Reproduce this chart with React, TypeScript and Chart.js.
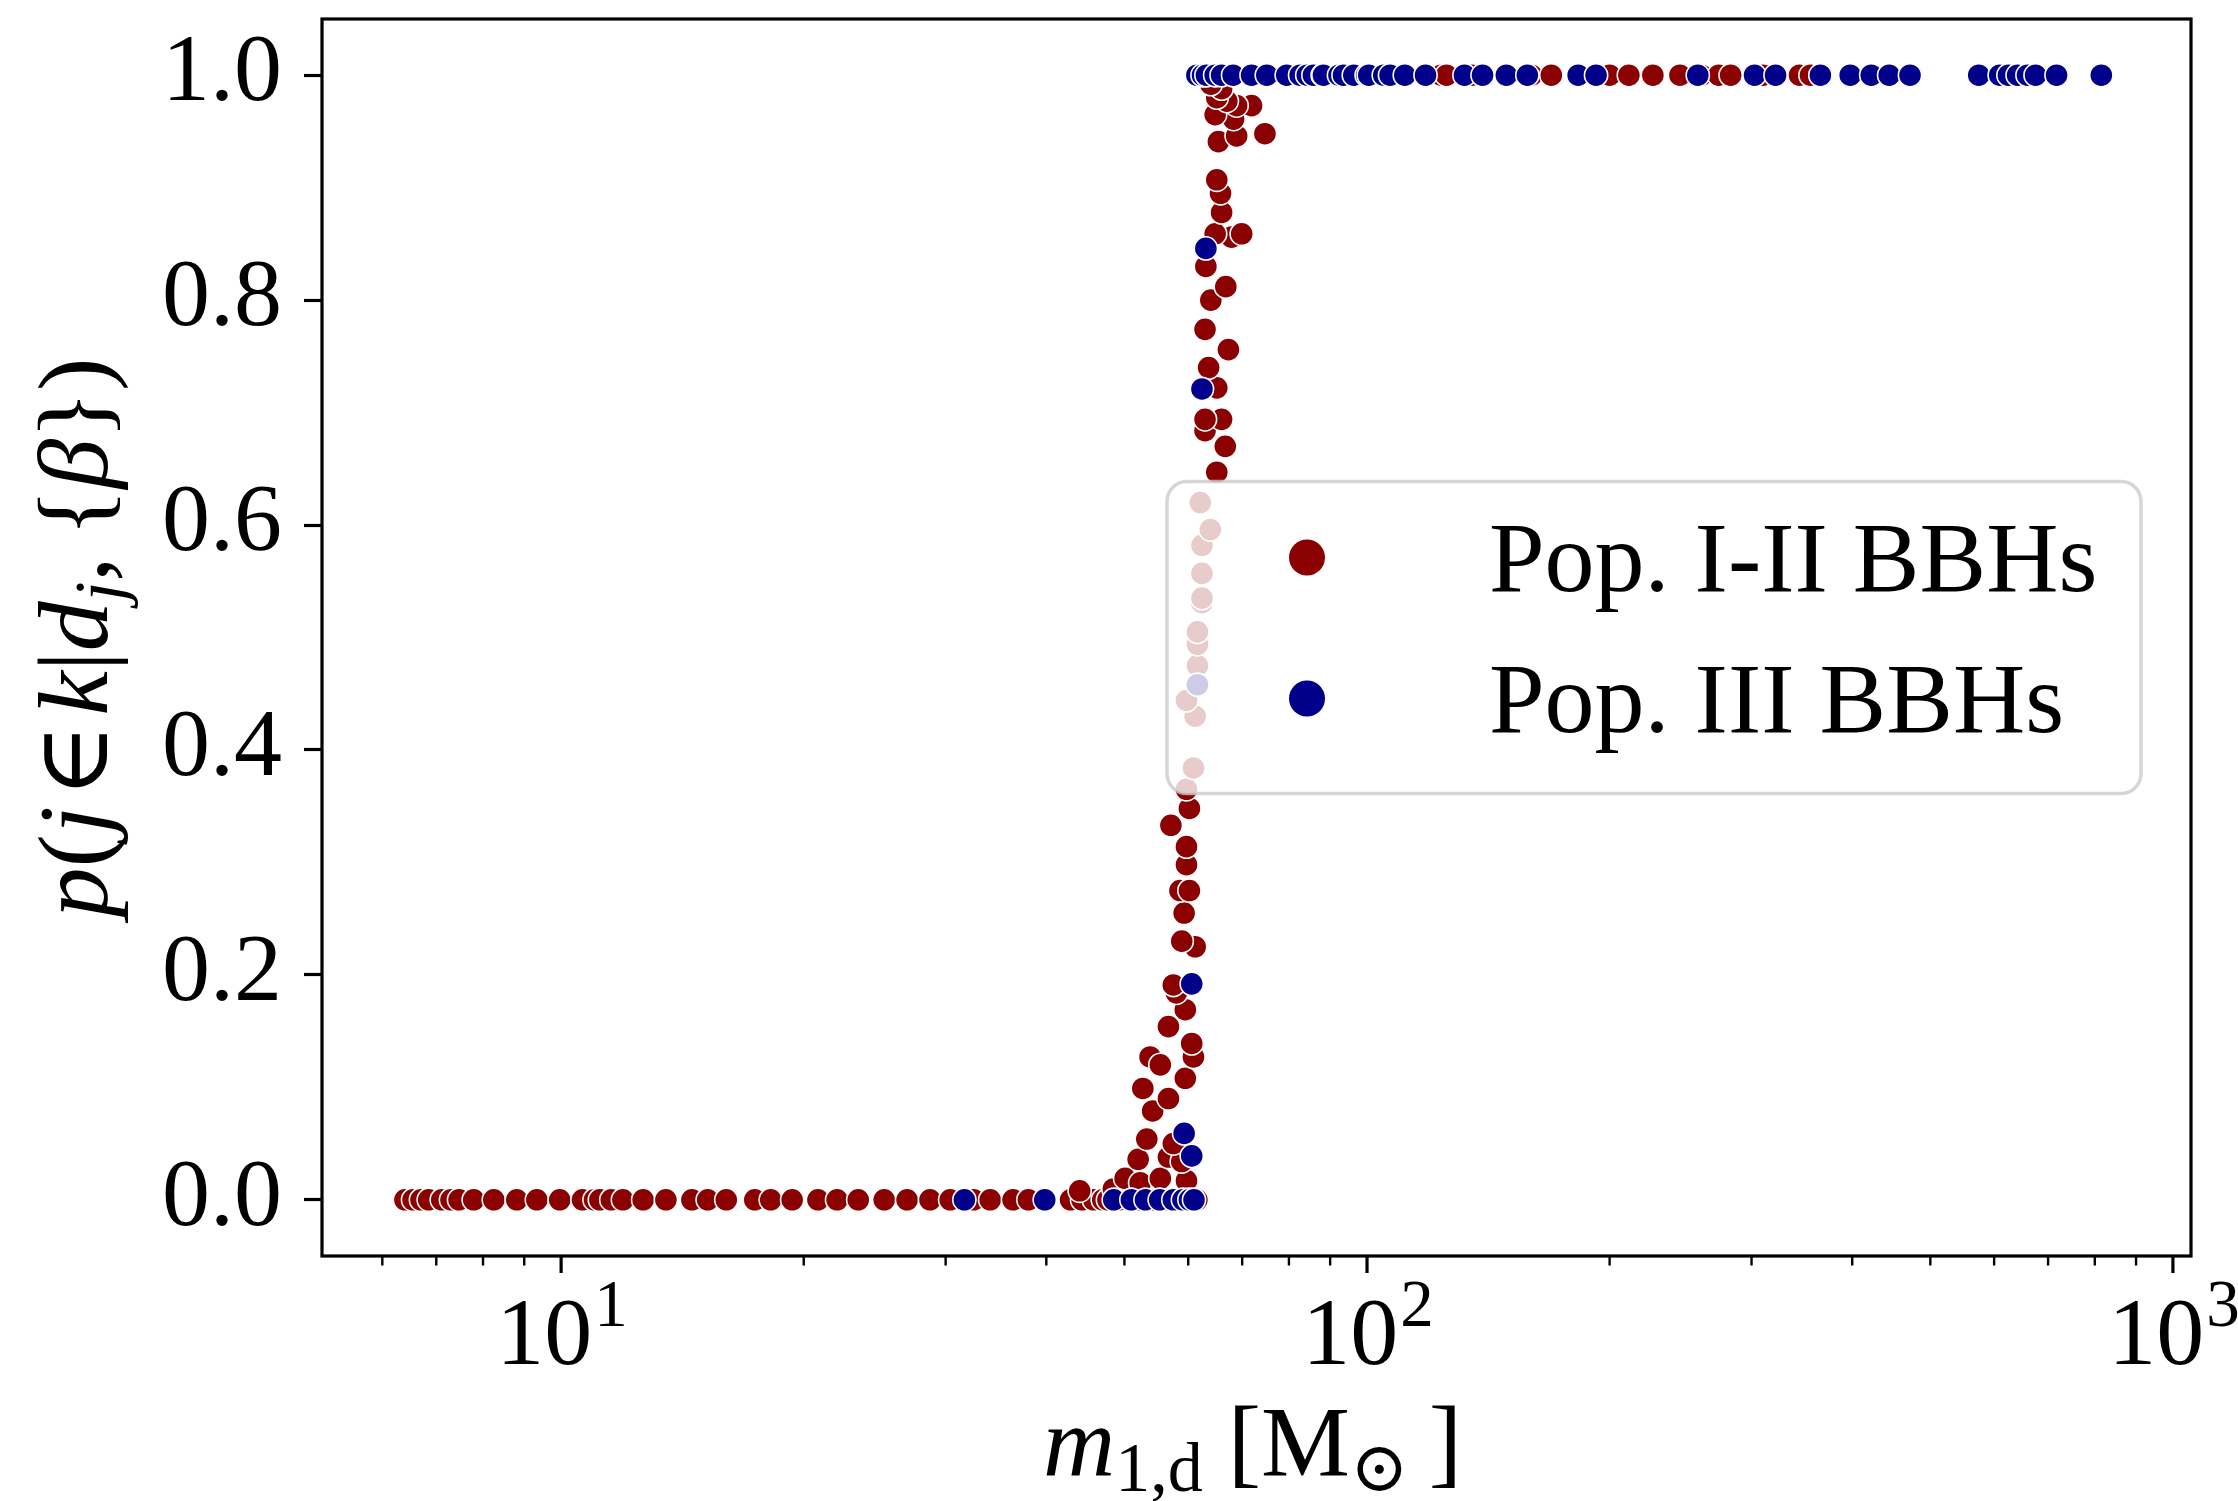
import React, { useEffect, useRef } from 'react';
import { Chart, registerables } from 'chart.js';

Chart.register(...registerables);

// ---------------- data ----------------
// Pop. I-II BBHs
const POP12_M0 = [6.40, 6.55, 6.70, 6.85, 7.11, 7.30, 7.47, 7.79, 8.25, 8.81, 9.33, 9.96, 10.63, 11.0, 11.17, 11.54, 11.93, 12.64, 13.49, 14.53, 15.2, 16.03, 17.39, 18.2, 19.35, 20.83, 22.0, 23.37, 25.17, 26.87, 28.69, 30.39, 32.5, 34.07, 36.37, 38.0, 42.87, 44.3, 45.8, 47.0, 47.7, 49.2, 50.9, 52.0, 53.5, 54.5, 56.0, 57.8, 59.0, 60.2, 61.5];
const POP12_MID_M = [44.0, 48.45, 50.1, 52.3, 55.4, 59.7, 52.0, 56.7, 58.9, 53.3, 57.5, 54.2, 56.7, 52.7, 59.5, 53.8, 55.4, 60.9, 60.6, 56.7, 59.5, 58.0, 57.5, 61.2, 58.9, 59.3, 58.6, 60.2, 59.7, 59.7, 57.1, 60.2, 59.7, 60.9, 61.2, 59.7, 61.6, 61.6, 61.6, 62.4, 62.4, 62.4, 62.4, 63.9, 62.1, 65.1, 66.7, 62.95, 66.0, 62.95, 65.1, 63.6, 67.3, 62.95, 64.0, 66.8, 63.1, 67.9, 69.9, 64.8, 66.0, 65.8, 65.1, 65.4, 68.9, 74.7, 68.3, 64.8, 71.9, 68.9, 67.0, 65.1, 66.0, 64.0];
const POP12_MID_P = [0.008, 0.0096, 0.019, 0.015, 0.019, 0.017, 0.036, 0.038, 0.034, 0.054, 0.05, 0.079, 0.090, 0.099, 0.108, 0.127, 0.120, 0.127, 0.139, 0.154, 0.169, 0.184, 0.191, 0.225, 0.230, 0.255, 0.275, 0.275, 0.298, 0.314, 0.333, 0.348, 0.365, 0.384, 0.430, 0.444, 0.475, 0.494, 0.505, 0.531, 0.535, 0.557, 0.582, 0.596, 0.620, 0.647, 0.670, 0.684, 0.694, 0.694, 0.722, 0.740, 0.756, 0.774, 0.800, 0.812, 0.830, 0.856, 0.859, 0.859, 0.878, 0.895, 0.907, 0.941, 0.946, 0.948, 0.961, 0.965, 0.973, 0.973, 0.977, 0.980, 0.988, 0.992];
const POP12_M1 = [123.6, 125.5, 135.0, 160.0, 169.3, 200.0, 211.3, 226.3, 244.5, 260.0, 273.2, 282.6, 310.0, 344.1, 355.0];

// Pop. III BBHs
const POP3_M0 = [31.65, 39.82, 48.5, 51.0, 53.1, 55.3, 57.5, 59.1, 60.2, 61.0];
const POP3_MID_M = [59.3, 60.6, 60.6, 61.6, 62.4, 63.1];
const POP3_MID_P = [0.059, 0.039, 0.192, 0.458, 0.721, 0.846];
const POP3_M1 = [61.5, 62.5, 63.2, 64.8, 66.0, 68.2, 71.9, 75.1, 79.5, 82.6, 84.3, 85.8, 88.1, 88.3, 92.3, 93.5, 96.3, 99.9, 100.5, 104.9, 106.8, 111.4, 118.2, 132.1, 139.1, 148.9, 158.1, 182.8, 192.4, 257.3, 302.6, 321.3, 365.2, 397.7, 422.3, 444.5, 471.8, 574.2, 609.6, 625.0, 641.6, 660.0, 675.4, 717.1, 815.0];

const SERIES_LABELS = ['Pop. I-II BBHs', 'Pop. III BBHs'];
const SERIES_COLORS = ['#8b0000', '#00008b'];

const X_MAJOR_TICKS = [10, 100, 1000];
const X_MINOR_TICKS = [6, 7, 8, 9, 20, 30, 40, 50, 60, 70, 80, 90, 200, 300, 400, 500, 600, 700, 800, 900];
const X_EXPONENTS = ['1', '2', '3'];
const Y_TICKS = [0, 0.2, 0.4, 0.6, 0.8, 1.0];

type Seg = { t: string; it?: boolean; sub?: boolean; sup?: boolean };
const X_TITLE: Seg[] = [
  { t: 'm', it: true },
  { t: '1,d', sub: true },
  { t: ' [M' },
  { t: '\u2299', sub: true },
  { t: '\u2009]' },
];
const Y_TITLE: Seg[] = [
  { t: 'p', it: true },
  { t: '(' },
  { t: 'j', it: true },
  { t: '\u200a\u2208\u200a' },
  { t: 'k', it: true },
  { t: '|' },
  { t: 'd', it: true },
  { t: 'j', it: true, sub: true },
  { t: ',\u2009' },
  { t: '{' },
  { t: '\u03b2', it: true },
  { t: '})' },
];

// ---------------- helpers ----------------
const FAMILY = '"Liberation Serif", "DejaVu Serif", serif';
const fontStr = (size: number, italic = false) => `${italic ? 'italic ' : ''}${size}px ${FAMILY}`;

function segFont(s: Seg, size: number) {
  return fontStr(s.sub || s.sup ? size * 0.7 : size, !!s.it);
}
function richWidth(ctx: CanvasRenderingContext2D, segs: Seg[], size: number) {
  let w = 0;
  for (const s of segs) {
    ctx.font = segFont(s, size);
    w += ctx.measureText(s.t).width;
  }
  return w;
}
function drawRich(ctx: CanvasRenderingContext2D, segs: Seg[], cx: number, baseline: number, size: number) {
  const w = richWidth(ctx, segs, size);
  let x = cx - w / 2;
  ctx.textAlign = 'left';
  ctx.textBaseline = 'alphabetic';
  for (const s of segs) {
    ctx.font = segFont(s, size);
    const dy = s.sub ? size * 0.16 : s.sup ? -size * 0.4 : 0;
    ctx.fillText(s.t, x, baseline + dy);
    x += ctx.measureText(s.t).width;
  }
}

const decorPlugin = {
  id: 'decor',
  afterDatasetsDraw(chart: any) {
    const ctx: CanvasRenderingContext2D = chart.ctx;
    const a = chart.chartArea;
    // legend (center right)
    const w = 974;
    const h = 312;
    const left = a.right - 50 - w;
    const top = (a.top + a.bottom) / 2 - h / 2;
    ctx.save();
    ctx.beginPath();
    ctx.roundRect(left, top, w, h, 20);
    ctx.fillStyle = 'rgba(255,255,255,0.8)';
    ctx.fill();
    ctx.lineWidth = 3.5;
    ctx.strokeStyle = 'rgba(204,204,204,0.8)';
    ctx.stroke();
    const rows = [top + 76, top + 217];
    SERIES_LABELS.forEach((lab, i) => {
      ctx.beginPath();
      ctx.arc(left + 140, rows[i], 18, 0, Math.PI * 2);
      ctx.fillStyle = SERIES_COLORS[i];
      ctx.fill();
      ctx.fillStyle = '#000';
      ctx.font = fontStr(100);
      ctx.textAlign = 'left';
      ctx.textBaseline = 'alphabetic';
      ctx.fillText(lab, left + 322, rows[i] + 33);
    });
    ctx.restore();
  },
  afterDraw(chart: any) {
    const ctx: CanvasRenderingContext2D = chart.ctx;
    const a = chart.chartArea;
    const xs = chart.scales.x;
    ctx.save();
    // frame
    ctx.strokeStyle = '#000';
    ctx.lineWidth = 3.2;
    ctx.strokeRect(a.left, a.top, a.right - a.left, a.bottom - a.top);
    // x ticks
    for (const t of xs.ticks) {
      const px = xs.getPixelForValue(t.value);
      const major = X_MAJOR_TICKS.includes(t.value);
      ctx.beginPath();
      ctx.lineWidth = major ? 3.2 : 2.4;
      ctx.moveTo(px, a.bottom);
      ctx.lineTo(px, a.bottom + (major ? 17 : 9.5));
      ctx.stroke();
    }
    // x tick labels 10^n
    ctx.fillStyle = '#000';
    X_MAJOR_TICKS.forEach((v, i) => {
      const px = xs.getPixelForValue(v);
      ctx.font = fontStr(96);
      const w1 = ctx.measureText('10').width;
      ctx.font = fontStr(67);
      const w2 = ctx.measureText(X_EXPONENTS[i]).width;
      const x0 = px - (w1 + w2) / 2;
      ctx.textAlign = 'left';
      ctx.textBaseline = 'alphabetic';
      ctx.font = fontStr(96);
      ctx.fillText('10', x0, 1364);
      ctx.font = fontStr(67);
      ctx.fillText(X_EXPONENTS[i], x0 + w1 + 2, 1326);
    });
    // x title
    drawRich(ctx, X_TITLE, (a.left + a.right) / 2 - 4, 1475, 100);
    // y title
    ctx.translate(107, (a.top + a.bottom) / 2);
    ctx.rotate(-Math.PI / 2);
    drawRich(ctx, Y_TITLE, 0, 0, 100);
    ctx.restore();
  },
};

function buildPoints(m0: number[], mm: number[], mp: number[], m1: number[]) {
  return [
    ...m0.map((m) => ({ x: m, y: 0 })),
    ...mm.map((m, i) => ({ x: m, y: mp[i] })),
    ...m1.map((m) => ({ x: m, y: 1 })),
  ];
}

export default function App() {
  const ref = useRef<HTMLCanvasElement | null>(null);
  useEffect(() => {
    let chart: Chart | null = null;
    let cancelled = false;
    const make = () => {
      if (cancelled || !ref.current) return;
      chart = new Chart(ref.current, {
        type: 'scatter',
        data: {
          datasets: [
            {
              label: SERIES_LABELS[0],
              data: buildPoints(POP12_M0, POP12_MID_M, POP12_MID_P, POP12_M1),
              backgroundColor: SERIES_COLORS[0],
              borderColor: '#ffffff',
              borderWidth: 1.6,
              pointRadius: 11.6,
              order: 1,
            },
            {
              label: SERIES_LABELS[1],
              data: buildPoints(POP3_M0, POP3_MID_M, POP3_MID_P, POP3_M1),
              backgroundColor: SERIES_COLORS[1],
              borderColor: '#ffffff',
              borderWidth: 1.6,
              pointRadius: 11.6,
              order: 0,
            },
          ],
        },
        options: {
          animation: false,
          responsive: false,
          devicePixelRatio: 1,
          layout: { padding: { left: 0, top: 19, right: 47, bottom: 0 } },
          plugins: { legend: { display: false }, tooltip: { enabled: false } },
          scales: {
            x: {
              type: 'logarithmic',
              min: 5.05,
              max: 1053,
              grid: { display: false },
              border: { display: false },
              ticks: { display: false },
              afterBuildTicks: (s: any) => {
                s.ticks = [...X_MAJOR_TICKS, ...X_MINOR_TICKS].map((v) => ({ value: v }));
              },
              afterFit: (s: any) => {
                s.height = 245;
                s.paddingLeft = 0;
                s.paddingRight = 0;
              },
            },
            y: {
              type: 'linear',
              min: -0.05,
              max: 1.05,
              grid: {
                drawOnChartArea: false,
                drawTicks: true,
                tickLength: 18,
                tickWidth: 3.2,
                tickColor: '#000',
              },
              border: { display: false },
              afterBuildTicks: (s: any) => {
                s.ticks = Y_TICKS.map((v) => ({ value: v }));
              },
              ticks: {
                padding: 22,
                color: '#000',
                font: { family: FAMILY, size: 96 },
                callback: (v: any) => Number(v).toFixed(1),
              },
              afterFit: (s: any) => {
                s.width = 322;
                s.paddingTop = 0;
                s.paddingBottom = 0;
              },
            },
          },
        },
        plugins: [decorPlugin],
      } as any);
    };
    const fonts: any = (document as any).fonts;
    if (fonts && fonts.load) {
      Promise.all([
        fonts.load(fontStr(96)),
        fonts.load(fontStr(96, true)),
      ]).then(make, make);
    } else {
      make();
    }
    return () => {
      cancelled = true;
      if (chart) chart.destroy();
    };
  }, []);
  return (
    <canvas
      ref={ref}
      width={2238}
      height={1501}
      style={{ position: 'absolute', left: 0, top: 0, width: 2238, height: 1501 }}
    />
  );
}
